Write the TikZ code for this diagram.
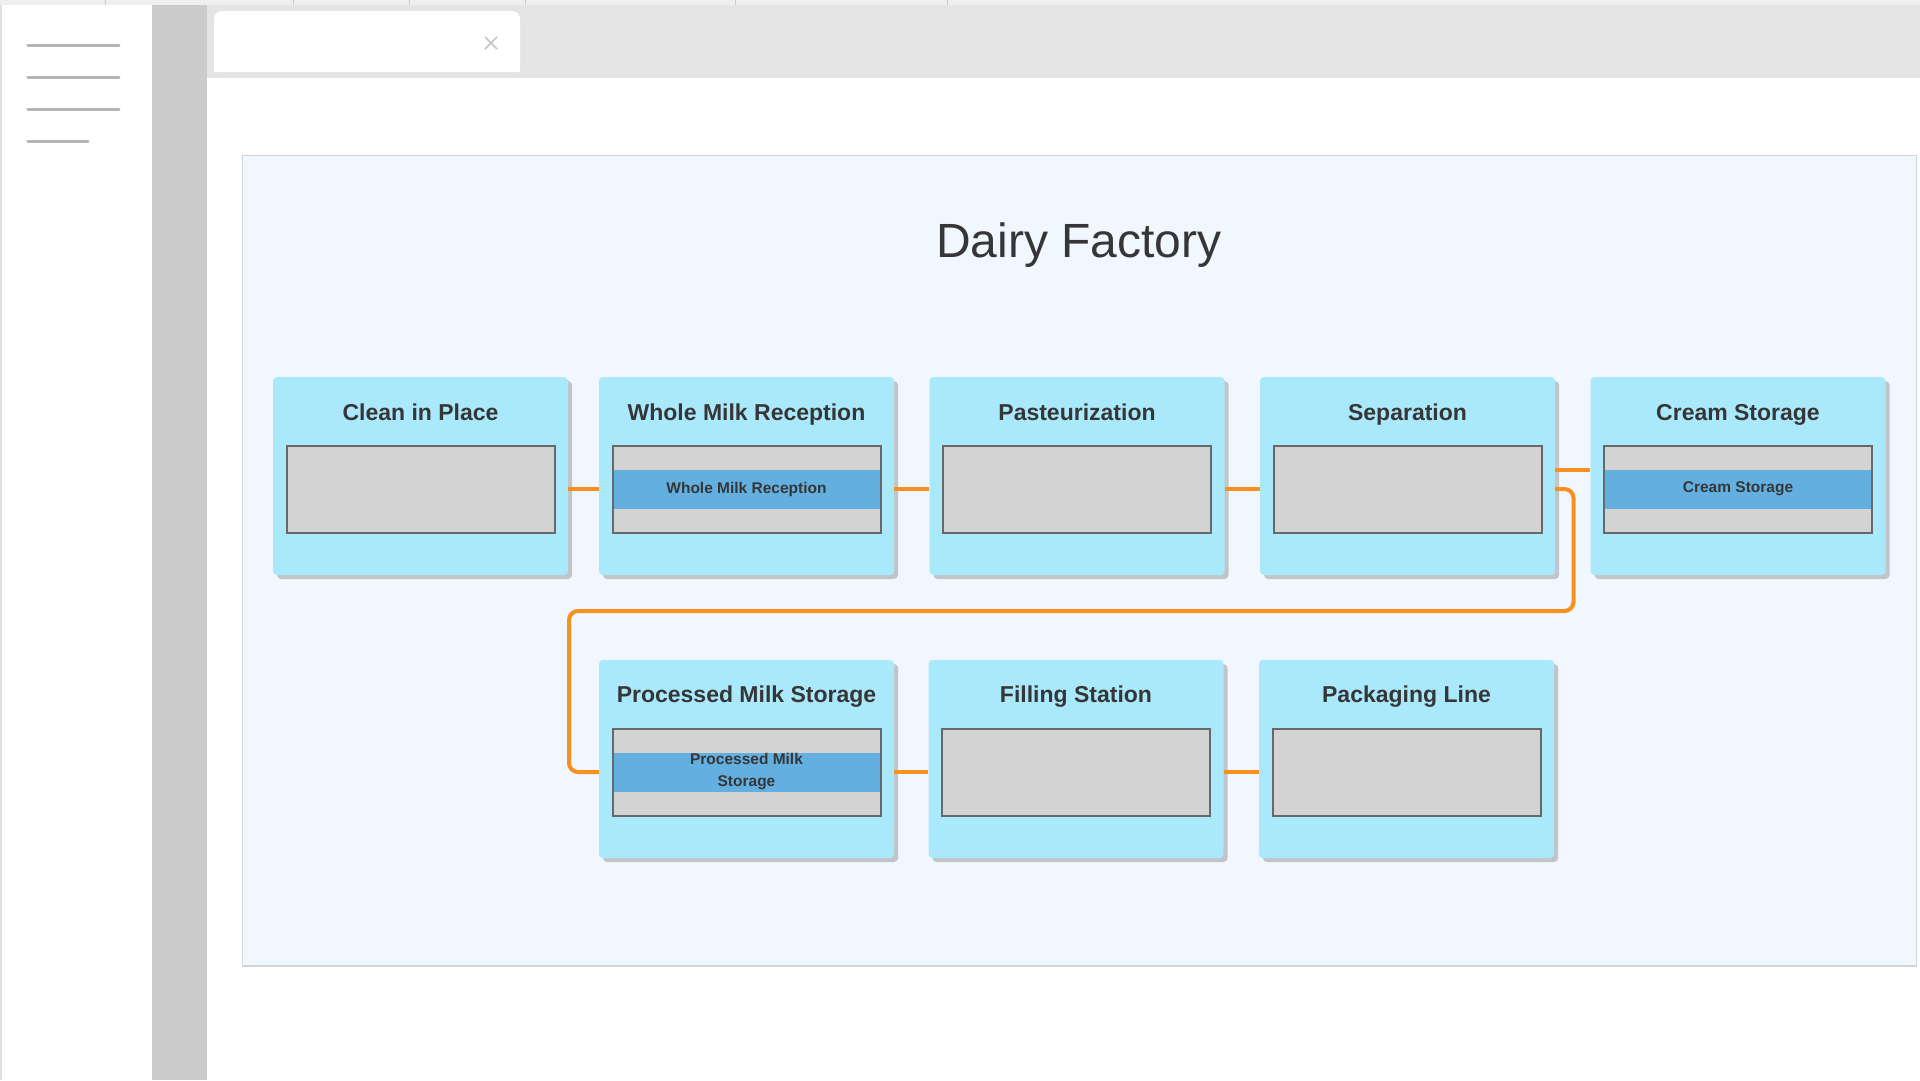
\documentclass[tikz,border=0pt]{standalone}
\usepackage{fontspec}
\setmainfont{Liberation Sans}
\usetikzlibrary{calc,shadows}
\definecolor{boxfill}{HTML}{AAE8FC}
\definecolor{shadowgray}{HTML}{C2C5C8}
\definecolor{innergray}{HTML}{D3D3D3}
\definecolor{innerborder}{HTML}{686868}
\definecolor{bandblue}{HTML}{62AFE0}
\definecolor{connorange}{HTML}{F7901E}
\definecolor{titlegray}{HTML}{363636}
\definecolor{panelfill}{HTML}{F0F7FE}
\definecolor{panelborder}{HTML}{CFD5DA}
\definecolor{sidegray}{HTML}{CBCBCB}
\definecolor{tabbar}{HTML}{E4E4E4}
\definecolor{topstrip}{HTML}{EFEFEF}
\definecolor{menugray}{HTML}{B4B4B4}
\begin{document}
\begin{tikzpicture}[x=1pt,y=-1pt,
  stage/.style={rectangle, rounded corners=4pt, fill=boxfill, minimum width=295pt, minimum height=198pt, inner sep=0pt,
    drop shadow={shadow xshift=4pt, shadow yshift=-4pt, fill=shadowgray, opacity=1}},
  innerbox/.style={rectangle, fill=innergray, minimum width=268pt, minimum height=87pt, inner sep=0pt},
  innerframe/.style={rectangle, draw=innerborder, line width=2pt, minimum width=268pt, minimum height=87pt, inner sep=0pt},
  band/.style={rectangle, fill=bandblue, minimum width=267pt, minimum height=39pt, inner sep=0pt, align=center,
    font=\fontsize{15.5}{22}\selectfont\bfseries, text=titlegray},
  stagetitle/.style={font=\fontsize{23}{27}\selectfont\bfseries, text=titlegray, anchor=base},
  conn/.style={draw=connorange, line width=4pt},
  menuline/.style={draw=menugray, line width=3pt, line cap=round}]
\useasboundingbox (0,0) rectangle (1920,1080);
% window chrome
\fill[white] (0,0) rectangle (1920,1080);
\fill[topstrip] (0,0) rectangle (1920,5);
\foreach \xx in {105,293,409,525,735,947} \draw[draw=sidegray, line width=1pt] (\xx,0) -- (\xx,5);
\fill[sidegray!60] (0,5) rectangle (2,1080);
\fill[sidegray] (152,5) rectangle (207,1080);
\fill[tabbar] (207,5) rectangle (1920,78);
\fill[white, rounded corners=8pt] (214,72) -- (214,11) -- (520,11) -- (520,72) -- cycle;
\fill[white] (214,60) rectangle (520,72);
\draw[draw=menugray!80, line width=1.5pt] (485,37) -- (497,49) (485,49) -- (497,37);
\draw[menuline] (28,45) -- (119,45);
\draw[menuline] (28,77) -- (119,77);
\draw[menuline] (28,109) -- (119,109);
\draw[menuline] (28,141) -- (88,141);
% panel
\draw[fill=panelfill, draw=panelborder, line width=1.5pt] (242.5,155.5) rectangle (1916.5,966);
\node[font=\fontsize{48}{56}\selectfont, text=titlegray, anchor=base] (title) at (1079,257) {Dairy Factory};
% stages row 1
\node[stage] (b1) at (420.5,476) {};
\node[stage] (b2) at (746.5,476) {};
\node[stage] (b3) at (1077,476) {};
\node[stage] (b4) at (1407.5,476) {};
\node[stage] (b5) at (1738,476) {};
% stages row 2
\node[stage] (b6) at (746.5,759) {};
\node[stage] (b7) at (1076,759) {};
\node[stage] (b8) at (1406.5,759) {};
% titles
\node[stagetitle] (t1) at ($(b1.north)+(0,44)$) {Clean in Place};
\node[stagetitle] (t2) at ($(b2.north)+(0,44)$) {Whole Milk Reception};
\node[stagetitle] (t3) at ($(b3.north)+(0,44)$) {Pasteurization};
\node[stagetitle] (t4) at ($(b4.north)+(0,44)$) {Separation};
\node[stagetitle] (t5) at ($(b5.north)+(0,44)$) {Cream Storage};
\node[stagetitle] (t6) at ($(b6.north)+(0,43)$) {Processed Milk Storage};
\node[stagetitle] (t7) at ($(b7.north)+(0,43)$) {Filling Station};
\node[stagetitle] (t8) at ($(b8.north)+(0,43)$) {Packaging Line};
% inner panels
\foreach \i in {1,...,8} \node[innerbox] (i\i) at ($(b\i.center)+(0,13)$) {};
\node[band] (w2) at (i2.center) {Whole Milk Reception};
\node[band] (w5) at (i5.center) {Cream Storage};
\node[band] (w6) at (i6.center) {Processed Milk\\Storage};
\foreach \i in {1,...,8} \node[innerframe] (f\i) at (i\i.center) {};
% connectors
\draw[conn] (b1.east |- i1.center) -- (b2.west |- i1.center);
\draw[conn] (b2.east |- i2.center) -- (b3.west |- i2.center);
\draw[conn] (b3.east |- i3.center) -- (b4.west |- i3.center);
\draw[conn] ($(b4.east)+(0,-6)$) -- ($(b5.west)+(0,-6)$);
\coordinate (loopR) at (1573.5,611);
\coordinate (loopL) at (569,611);
\draw[conn, rounded corners=9pt] (b4.east |- i4.center) -| (loopR) -- (loopL) |- (b6.west |- i6.center);
\draw[conn] (b6.east |- i6.center) -- (b7.west |- i6.center);
\draw[conn] (b7.east |- i7.center) -- (b8.west |- i7.center);
\end{tikzpicture}
\end{document}
